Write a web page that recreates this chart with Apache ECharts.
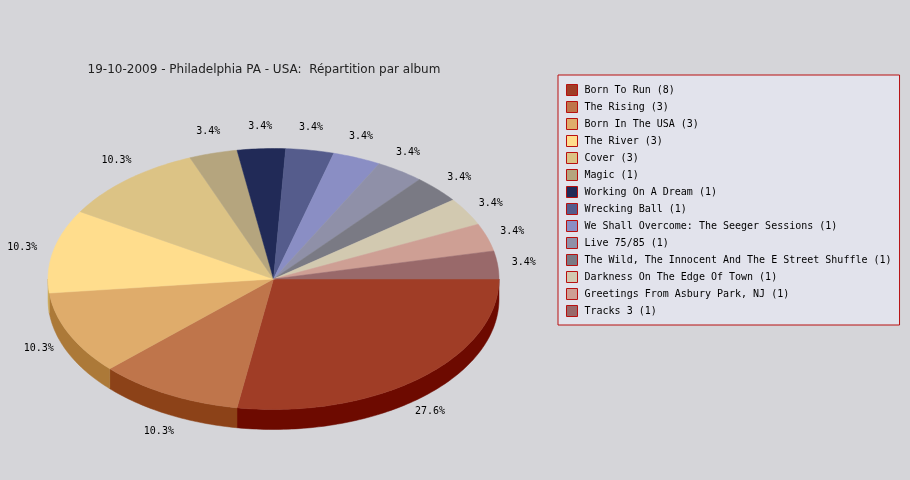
<!DOCTYPE html>
<html>
<head>
<meta charset="utf-8">
<style>html,body{margin:0;padding:0;background:#d5d5d9}#c{width:910px;height:480px}</style>
<script src="https://cdn.jsdelivr.net/npm/echarts@6/dist/echarts.min.js"></script>
</head>
<body>
<div id="c"></div>
<script>
const albums = ['Born To Run','The Rising','Born In The USA','The River','Cover','Magic','Working On A Dream','Wrecking Ball','We Shall Overcome: The Seeger Sessions','Live 75/85','The Wild, The Innocent And The E Street Shuffle','Darkness On The Edge Of Town','Greetings From Asbury Park, NJ','Tracks 3'];
const counts = [8,3,3,3,3,1,1,1,1,1,1,1,1,1];
const titleText = '19-10-2009 - Philadelphia PA - USA:  Répartition par album';

const sliceColors = ['#a03d26','#bf754b','#dfac6b','#ffdd8d','#dcc385','#b5a57e','#212a57','#555c8c','#8a8ec4','#8f90a8','#7a7a84','#d2c9b0','#ce9f94','#99696a'];
const labelNudges = [[10.5,33],[-9,37],[-30,14.5],[-31,-4],[-11,-19],[-5,-22],[-1,-22],[1,-23],[4,-21],[8,-19],[22,-12],[24,-8],[25,-5.5],[26,-2]];

const CX = 273.5, CY = 279, RX = 225.5, RY = 130.5, DEPTH = 20;
const MONO = '"DejaVu Sans Mono", monospace';
const total = counts.reduce((a,b)=>a+b,0);

function darken(hex){
  const n = parseInt(hex.slice(1),16);
  const c = [n>>16,(n>>8)&255,n&255].map(v=>Math.max(0,v-51));
  return 'rgb('+c.join(',')+')';
}
function rim(a,dy){ return [CX+RX*Math.cos(a), CY+RY*Math.sin(a)+(dy||0)]; }
function arc(a0,a1,dy){
  const n = Math.max(2,Math.ceil((a1-a0)/(Math.PI/180)));
  const pts=[];
  for(let k=0;k<=n;k++) pts.push(rim(a0+(a1-a0)*k/n,dy));
  return pts;
}
function makeRender(i){
  return function(params, api){
    let before = 0;
    for(let k=0;k<i;k++) before += counts[k];
    const a0 = before/total*2*Math.PI;
    const a1 = (before+api.value(0))/total*2*Math.PI;
    const color = sliceColors[i];
    const children = [];
    const s0 = Math.max(a0,0), s1 = Math.min(a1,Math.PI);
    if(s1>s0){
      const side = arc(s0,s1,0).concat(arc(s0,s1,DEPTH).reverse());
      children.push({type:'polygon',shape:{points:side},style:{fill:darken(color),stroke:darken(color),lineWidth:0.5}});
    }
    children.push({type:'polygon',shape:{points:[[CX,CY]].concat(arc(a0,a1,0))},style:{fill:color,stroke:color,lineWidth:0.5}});
    const mid = (a0+a1)/2, p = rim(mid,0);
    children.push({type:'text',x:p[0]+labelNudges[i][0],y:p[1]+labelNudges[i][1],
      style:{text:(api.value(0)/total*100).toFixed(1)+'%',font:'10px '+MONO,fill:'#000',align:'center',verticalAlign:'middle'}});
    return {type:'group',children};
  };
}
const chart = echarts.init(document.getElementById('c'),null,{renderer:'canvas'});
chart.setOption({
  animation:false,
  backgroundColor:'#d5d5d9',
  title:{text:titleText,left:264,top:64,textAlign:'center',
    textStyle:{fontFamily:'"DejaVu Sans", sans-serif',fontSize:12,fontWeight:'normal',color:'#222'},padding:0},
  legend:{
    orient:'vertical',left:558,top:75,padding:[9,8,8,8],itemWidth:11,itemHeight:11,itemGap:5,
    icon:'rect',selectedMode:false,backgroundColor:'#e2e3ec',borderColor:'#b81010',borderWidth:1,borderRadius:0,
    itemStyle:{borderColor:'#b81010',borderWidth:1},
    textStyle:{fontFamily:MONO,fontSize:10,color:'#000',padding:[0,0,0,2]},
    data:albums.map((a,i)=>a+' ('+counts[i]+')')
  },
  series:albums.map((a,i)=>({
    type:'custom',name:a+' ('+counts[i]+')',coordinateSystem:'none',silent:true,
    itemStyle:{color:sliceColors[i]},data:[[counts[i]]],renderItem:makeRender(i)
  }))
});
</script>
</body>
</html>
